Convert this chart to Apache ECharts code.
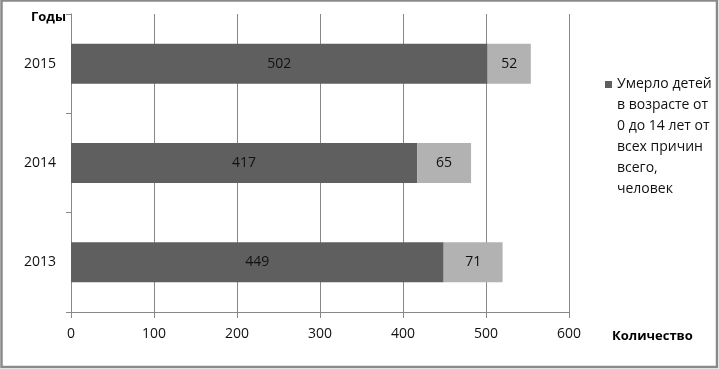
<!DOCTYPE html>
<html>
<head>
<meta charset="utf-8">
<script src="https://cdn.jsdelivr.net/npm/echarts@6/dist/echarts.min.js"></script>
<style>
html,body{margin:0;padding:0;background:#fff;}
#c{width:719px;height:369px;}
</style>
</head>
<body>
<div id="c"></div>
<script>
var categories = ['2013', '2014', '2015'];
var totalDeaths = [449, 417, 502];
var otherDeaths = [71, 65, 52];
var xTicks = [0, 100, 200, 300, 400, 500, 600];
var legendName = 'Умерло детей\nв возрасте от\n0 до 14 лет от\nвсех причин\nвсего,\nчеловек';
var secondName = 'Прочее';
var yName = 'Годы';
var xName = 'Количество';

var FONT = 'Open Sans';
var chart = echarts.init(document.getElementById('c'));
chart.setOption({
  animation: false,
  textStyle: {fontFamily: FONT},
  grid: {left: 71, right: 150, top: 14, bottom: 57, containLabel: false},
  graphic: [{
    type: 'rect', silent: true, z: 100,
    shape: {x: 1.5, y: 0.5, width: 715.5, height: 366.5},
    style: {fill: 'none', stroke: '#8a8a8a', lineWidth: 2.5}
  }],
  legend: {
    data: [legendName],
    orient: 'vertical',
    left: 600,
    top: -36,
    itemWidth: 7,
    itemHeight: 7,
    icon: 'rect',
    selectedMode: false,
    formatter: function (name) {
      // blank leading lines keep the first text line level with the marker
      var n = name.split('\n').length - 1;
      return new Array(n + 1).join('\n') + name;
    },
    textStyle: {
      fontFamily: FONT, fontSize: 14, color: '#111',
      lineHeight: 21
    }
  },
  xAxis: {
    type: 'value',
    min: xTicks[0],
    max: xTicks[xTicks.length - 1],
    interval: 100,
    name: xName,
    nameLocation: 'end',
    nameGap: 43,
    nameTextStyle: {fontFamily: FONT, fontSize: 13, fontWeight: 'bold', color: '#000',
      verticalAlign: 'top', align: 'left', padding: [18, 0, 0, 0]},
    axisLine: {show: true, lineStyle: {color: '#888', width: 1}},
    axisTick: {show: true, length: 6, lineStyle: {color: '#888'}},
    axisLabel: {margin: 15, fontSize: 14, color: '#111', fontFamily: FONT},
    splitLine: {show: true, lineStyle: {color: '#888', width: 1}}
  },
  yAxis: {
    type: 'category',
    data: categories,
    name: yName,
    nameLocation: 'end',
    nameGap: -3,
    nameTextStyle: {fontFamily: FONT, fontSize: 13, fontWeight: 'bold', color: '#000',
      align: 'right', verticalAlign: 'middle', padding: [0, 5, 0, 0]},
    axisLine: {show: true, lineStyle: {color: '#888', width: 1}},
    axisTick: {show: true, length: 5, lineStyle: {color: '#888'}},
    axisLabel: {margin: 15, fontSize: 14, color: '#111', fontFamily: FONT},
    splitLine: {show: false}
  },
  series: [{
    name: legendName,
    type: 'bar',
    stack: 'a',
    data: totalDeaths,
    barWidth: 40,
    itemStyle: {color: '#5f5f5f'},
    label: {show: true, position: 'inside', color: '#111', fontSize: 14, fontFamily: FONT}
  }, {
    name: secondName,
    type: 'bar',
    stack: 'a',
    data: otherDeaths,
    barWidth: 40,
    itemStyle: {color: '#b2b2b2'},
    label: {show: true, position: 'inside', color: '#111', fontSize: 14, fontFamily: FONT}
  }]
});
</script>
</body>
</html>
